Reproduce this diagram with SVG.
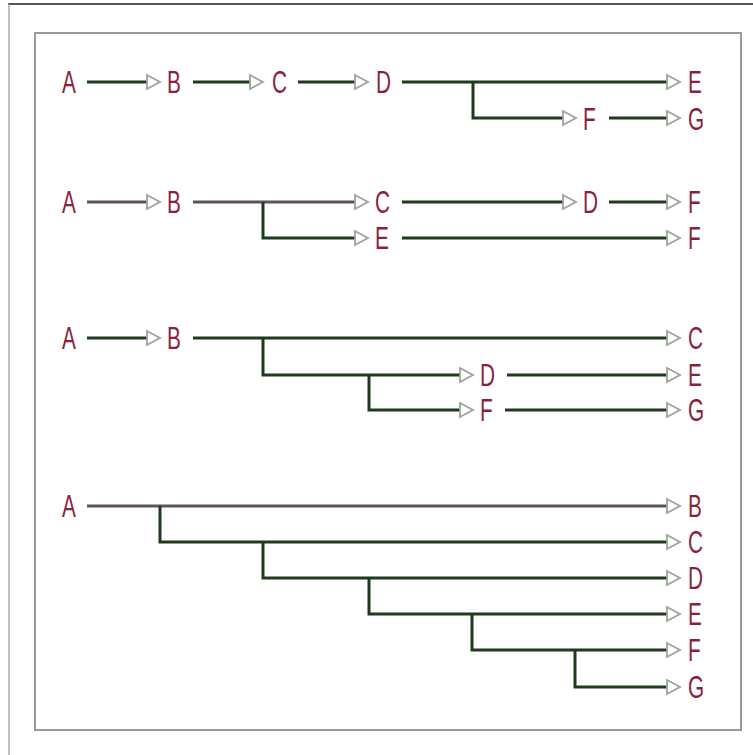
<svg xmlns="http://www.w3.org/2000/svg" width="753" height="755" viewBox="0 0 753 755">
<style>
.l{fill:none;stroke:#1f3a1f;stroke-width:3;marker-end:url(#ah)}
.g{stroke:#5e5358}
.t{font-family:"Liberation Sans",Arial,sans-serif;font-size:32px;fill:#8a1f3e}
</style>
<defs>
<marker id="ah" markerUnits="userSpaceOnUse" markerWidth="18" markerHeight="18" viewBox="0 -9 18 18" refX="1" refY="0" orient="auto">
<path d="M1,-7 L14,0 L1,7 Z" fill="#fff" stroke="#a0a0a0" stroke-width="1.8"/>
</marker>
</defs>
<rect width="753" height="755" fill="#fff"/>
<g id="frame">
<line x1="8" y1="4" x2="753" y2="4" stroke="#555" stroke-width="2"/>
<line x1="9" y1="4" x2="9" y2="755" stroke="#aaa" stroke-width="1.5"/>
<rect x="35" y="33" width="706" height="697" fill="none" stroke="#9a9a9a" stroke-width="2"/>
</g>
<g id="connectors">
<path class="l" d="M87,82 H147"/>
<path class="l" d="M193,82 H250"/>
<path class="l" d="M298,82 H355"/>
<path class="l" d="M402,82 H667"/>
<path class="l" d="M473,82 V118 H563"/>
<path class="l" d="M609,118 H667"/>

<path class="l g" d="M87,202 H147"/>
<path class="l g" d="M193,202 H355"/>
<path class="l" d="M263,202 V238 H355"/>
<path class="l" d="M402,202 H563"/>
<path class="l" d="M609,202 H667"/>
<path class="l" d="M402,238 H667"/>

<path class="l" d="M87,338 H147"/>
<path class="l" d="M193,338 H667"/>
<path class="l" d="M263,338 V375 H460"/>
<path class="l" d="M507,375 H667"/>
<path class="l" d="M369,375 V410 H460"/>
<path class="l" d="M505,410 H667"/>

<path class="l g" d="M87,506 H667"/>
<path class="l" d="M160,506 V542 H667"/>
<path class="l" d="M263,542 V578 H667"/>
<path class="l" d="M369,578 V614 H667"/>
<path class="l" d="M472,614 V650 H667"/>
<path class="l" d="M575,650 V687 H667"/>
</g>
<g id="row1">
<text class="t" transform="translate(62,93) scale(0.65,1)">A</text>
<text class="t" transform="translate(167,93) scale(0.65,1)">B</text>
<text class="t" transform="translate(272,93) scale(0.65,1)">C</text>
<text class="t" transform="translate(376,93) scale(0.65,1)">D</text>
<text class="t" transform="translate(688,93) scale(0.65,1)">E</text>
<text class="t" transform="translate(583,130) scale(0.65,1)">F</text>
<text class="t" transform="translate(688,130) scale(0.65,1)">G</text>
</g>
<g id="row2">
<text class="t" transform="translate(62,213) scale(0.65,1)">A</text>
<text class="t" transform="translate(167,213) scale(0.65,1)">B</text>
<text class="t" transform="translate(375,213) scale(0.65,1)">C</text>
<text class="t" transform="translate(583,213) scale(0.65,1)">D</text>
<text class="t" transform="translate(688,213) scale(0.65,1)">F</text>
<text class="t" transform="translate(375,249) scale(0.65,1)">E</text>
<text class="t" transform="translate(688,249) scale(0.65,1)">F</text>
</g>
<g id="row3">
<text class="t" transform="translate(62,349) scale(0.65,1)">A</text>
<text class="t" transform="translate(167,349) scale(0.65,1)">B</text>
<text class="t" transform="translate(688,349) scale(0.65,1)">C</text>
<text class="t" transform="translate(480,386) scale(0.65,1)">D</text>
<text class="t" transform="translate(688,386) scale(0.65,1)">E</text>
<text class="t" transform="translate(480,421) scale(0.65,1)">F</text>
<text class="t" transform="translate(688,421) scale(0.65,1)">G</text>
</g>
<g id="row4">
<text class="t" transform="translate(62,517) scale(0.65,1)">A</text>
<text class="t" transform="translate(688,517) scale(0.65,1)">B</text>
<text class="t" transform="translate(688,553) scale(0.65,1)">C</text>
<text class="t" transform="translate(688,589) scale(0.65,1)">D</text>
<text class="t" transform="translate(688,625) scale(0.65,1)">E</text>
<text class="t" transform="translate(688,661) scale(0.65,1)">F</text>
<text class="t" transform="translate(688,698) scale(0.65,1)">G</text>
</g>
</svg>
